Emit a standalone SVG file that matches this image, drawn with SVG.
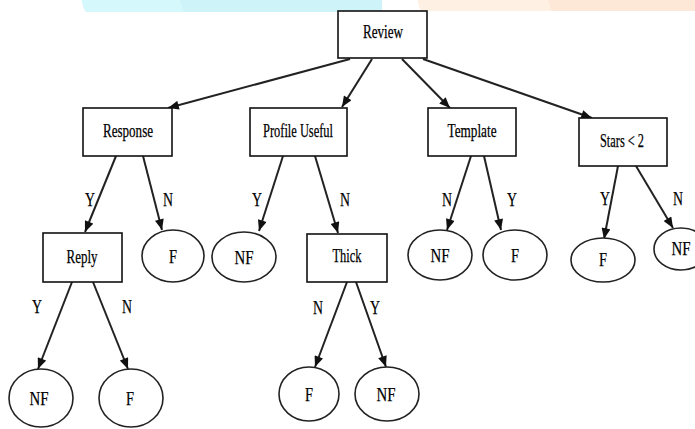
<svg xmlns="http://www.w3.org/2000/svg" width="695" height="429" viewBox="0 0 695 429">
<style>
.box{fill:#fff;stroke:#111;stroke-width:1.6}
.ell{fill:#fff;stroke:#222;stroke-width:1.6}
.t{font-family:"Liberation Serif","Times New Roman",serif;font-size:19px;fill:#000;text-anchor:middle;stroke:#000;stroke-width:0.25}
.e{stroke:#222;stroke-width:2;fill:none;marker-end:url(#ah)}
</style>
<defs>
<marker id="ah" viewBox="0 0 12 10" refX="12" refY="5" markerWidth="6" markerHeight="4.5" orient="auto" markerUnits="strokeWidth">
<path d="M0,0 L12,5 L0,10 z" fill="#111"/>
</marker>
</defs>
<rect width="695" height="429" fill="#fff"/>
<g id="banner">
<path d="M82,0 L382,0 L382,12 L86,12 Q83,8 82,0 z" fill="#cef4fa"/>
<path d="M82,0 L180,0 L184,12 L86,12 Q83,8 82,0 z" fill="#d4f8fc"/>
<path d="M418,0 L695,0 L695,11 L422,11 Q419,8 418,0 z" fill="#fde7d6"/>
<path d="M418,0 L548,0 L552,11 L422,11 Q419,8 418,0 z" fill="#fff0e4"/>
</g>
<g id="connectors">
<line class="e" x1="350" y1="59" x2="168" y2="108"/>
<line class="e" x1="372" y1="59" x2="342" y2="107"/>
<line class="e" x1="402" y1="59" x2="450" y2="108"/>
<line class="e" x1="423" y1="59" x2="592" y2="118"/>
<line class="e" x1="116" y1="156" x2="85" y2="232"/>
<line class="e" x1="143" y1="156" x2="162" y2="230"/>
<line class="e" x1="283" y1="156" x2="259" y2="231"/>
<line class="e" x1="315" y1="156" x2="338" y2="233"/>
<line class="e" x1="471" y1="156" x2="447" y2="230"/>
<line class="e" x1="484" y1="156" x2="501" y2="230"/>
<line class="e" x1="618" y1="166" x2="604" y2="239"/>
<line class="e" x1="636" y1="166" x2="673" y2="228"/>
<line class="e" x1="72" y1="282" x2="38" y2="369"/>
<line class="e" x1="93" y1="282" x2="128" y2="369"/>
<line class="e" x1="347" y1="282" x2="315" y2="367"/>
<line class="e" x1="356" y1="282" x2="386" y2="367"/>
<text class="t" x="90" y="206" textLength="10" lengthAdjust="spacingAndGlyphs">Y</text>
<text class="t" x="168" y="206" textLength="10" lengthAdjust="spacingAndGlyphs">N</text>
<text class="t" x="257" y="206" textLength="10" lengthAdjust="spacingAndGlyphs">Y</text>
<text class="t" x="345" y="206" textLength="10" lengthAdjust="spacingAndGlyphs">N</text>
<text class="t" x="447" y="206" textLength="10" lengthAdjust="spacingAndGlyphs">N</text>
<text class="t" x="512" y="206" textLength="10" lengthAdjust="spacingAndGlyphs">Y</text>
<text class="t" x="605" y="205" textLength="10" lengthAdjust="spacingAndGlyphs">Y</text>
<text class="t" x="678" y="205" textLength="10" lengthAdjust="spacingAndGlyphs">N</text>
<text class="t" x="37" y="313" textLength="10" lengthAdjust="spacingAndGlyphs">Y</text>
<text class="t" x="127" y="313" textLength="10" lengthAdjust="spacingAndGlyphs">N</text>
<text class="t" x="318" y="314" textLength="10" lengthAdjust="spacingAndGlyphs">N</text>
<text class="t" x="375" y="314" textLength="10" lengthAdjust="spacingAndGlyphs">Y</text>
</g>
<g id="review">
<rect class="box" x="338" y="11" width="89" height="47"/>
<text class="t" x="383" y="38" textLength="40" lengthAdjust="spacingAndGlyphs">Review</text>
</g>
<g id="response">
<rect class="box" x="83" y="108" width="89" height="48"/>
<text class="t" x="128" y="137" textLength="50" lengthAdjust="spacingAndGlyphs">Response</text>
</g>
<g id="profile-useful">
<rect class="box" x="250" y="108" width="97" height="48"/>
<text class="t" x="298" y="137" textLength="70" lengthAdjust="spacingAndGlyphs">Profile Useful</text>
</g>
<g id="template">
<rect class="box" x="428" y="108" width="88" height="48"/>
<text class="t" x="472" y="137" textLength="49" lengthAdjust="spacingAndGlyphs">Template</text>
</g>
<g id="stars">
<rect class="box" x="579" y="118" width="88" height="48"/>
<text class="t" x="622" y="147" textLength="44" lengthAdjust="spacingAndGlyphs">Stars &lt; 2</text>
</g>
<g id="reply">
<rect class="box" x="43" y="233" width="79" height="49"/>
<text class="t" x="82" y="263" textLength="31" lengthAdjust="spacingAndGlyphs">Reply</text>
</g>
<g id="thick">
<rect class="box" x="307" y="234" width="80" height="48"/>
<text class="t" x="347" y="262" textLength="29" lengthAdjust="spacingAndGlyphs">Thick</text>
</g>
<g id="response-f">
<ellipse class="ell" cx="173" cy="256" rx="31" ry="26"/>
<text class="t" x="173" y="263" textLength="8" lengthAdjust="spacingAndGlyphs">F</text>
</g>
<g id="profile-nf">
<ellipse class="ell" cx="244" cy="257" rx="32" ry="25"/>
<text class="t" x="244" y="264" textLength="19" lengthAdjust="spacingAndGlyphs">NF</text>
</g>
<g id="template-nf">
<ellipse class="ell" cx="440" cy="255" rx="32" ry="25"/>
<text class="t" x="440" y="262" textLength="19" lengthAdjust="spacingAndGlyphs">NF</text>
</g>
<g id="template-f">
<ellipse class="ell" cx="515" cy="255" rx="32" ry="25"/>
<text class="t" x="515" y="262" textLength="8" lengthAdjust="spacingAndGlyphs">F</text>
</g>
<g id="stars-f">
<ellipse class="ell" cx="603" cy="260" rx="32" ry="22"/>
<text class="t" x="603" y="266" textLength="8" lengthAdjust="spacingAndGlyphs">F</text>
</g>
<g id="stars-nf">
<ellipse class="ell" cx="681" cy="249" rx="27" ry="21"/>
<text class="t" x="681" y="255" textLength="19" lengthAdjust="spacingAndGlyphs">NF</text>
</g>
<g id="reply-nf">
<ellipse class="ell" cx="41" cy="398" rx="32" ry="29"/>
<text class="t" x="39" y="405" textLength="19" lengthAdjust="spacingAndGlyphs">NF</text>
</g>
<g id="reply-f">
<ellipse class="ell" cx="131" cy="398" rx="32" ry="29"/>
<text class="t" x="130" y="405" textLength="8" lengthAdjust="spacingAndGlyphs">F</text>
</g>
<g id="thick-f">
<ellipse class="ell" cx="309" cy="394" rx="30" ry="27"/>
<text class="t" x="309" y="401" textLength="8" lengthAdjust="spacingAndGlyphs">F</text>
</g>
<g id="thick-nf">
<ellipse class="ell" cx="387" cy="394" rx="32" ry="27"/>
<text class="t" x="386" y="401" textLength="19" lengthAdjust="spacingAndGlyphs">NF</text>
</g>
</svg>
